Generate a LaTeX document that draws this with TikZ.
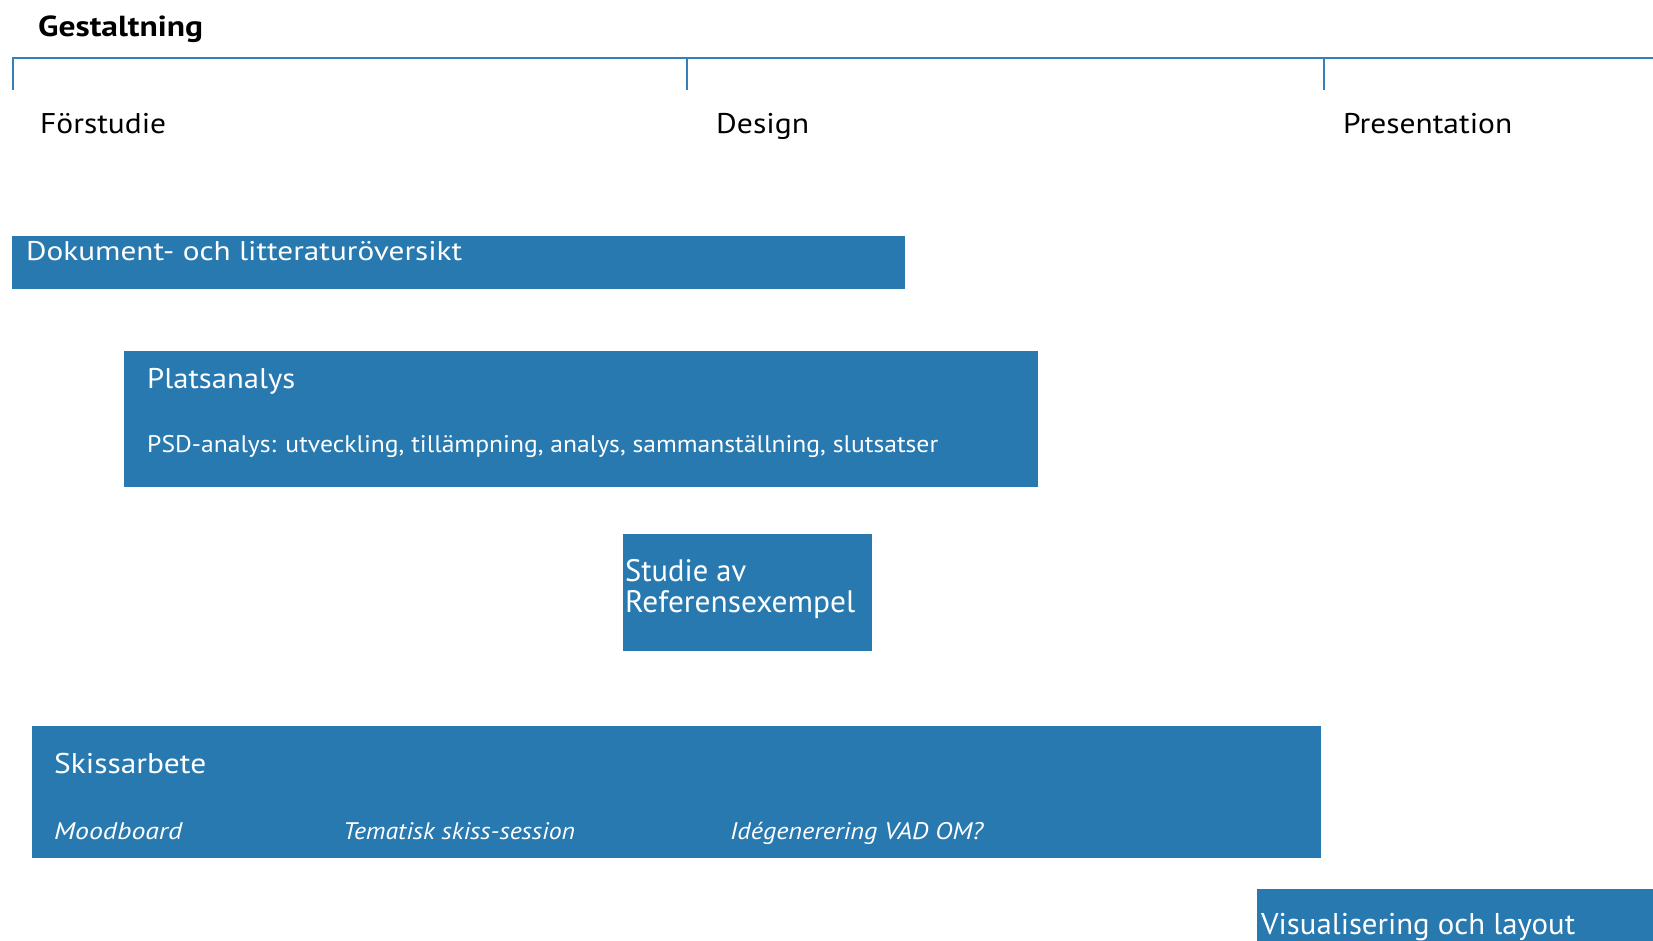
\documentclass[tikz,border=0pt]{standalone}
\usepackage{fontspec}
\setmainfont{PT Sans}
\usepackage{graphicx}
\definecolor{boxblue}{HTML}{2879B0}
\definecolor{lineblue}{HTML}{3580BA}
\newcommand\fitw[2]{\resizebox{#1}{\height}{#2}}
\begin{document}
\begin{tikzpicture}[x=1pt,y=-1pt,
  box/.style={fill=boxblue,draw=none,inner sep=0pt,anchor=north west},
  txt/.style={inner sep=0pt,anchor=base west,text=white},
  head/.style={inner sep=0pt,anchor=base west,text=black},
  axis/.style={draw=lineblue,line width=2.6pt},
  tick/.style={draw=lineblue,line width=2pt}]
\useasboundingbox (0,0) rectangle (1653,940);
% title
\node[head,font=\bfseries\fontsize{29}{32}\selectfont] (title) at (38,36) {\fitw{165pt}{Gestaltning}};
% timeline
\coordinate (l0) at (13,58);
\coordinate (l1) at (1653,58);
\coordinate (t1a) at (13,57); \coordinate (t1b) at (13,90);
\coordinate (t2a) at (687,57); \coordinate (t2b) at (687,90);
\coordinate (t3a) at (1324,57); \coordinate (t3b) at (1324,90);
\draw[axis] (l0) -- (l1);
\draw[tick] (t1a) -- (t1b);
\draw[tick] (t2a) -- (t2b);
\draw[tick] (t3a) -- (t3b);
\node[head,font=\fontsize{28.5}{32}\selectfont] (forstudie) at (40,133) {\fitw{126pt}{Förstudie}};
\node[head,font=\fontsize{28.5}{32}\selectfont] (design) at (716,133) {\fitw{93pt}{Design}};
\node[head,font=\fontsize{28.5}{32}\selectfont] (present) at (1343,133) {\fitw{169pt}{Presentation}};
% boxes
\node[box,minimum width=893pt,minimum height=53pt] (dok) at (12,236) {};
\node[box,minimum width=914pt,minimum height=136pt] (plats) at (124,351) {};
\node[box,minimum width=249pt,minimum height=117pt] (studie) at (623,534) {};
\node[box,minimum width=1289pt,minimum height=132pt] (skiss) at (32,726) {};
\node[box,minimum width=400pt,minimum height=60pt] (vis) at (1257,889) {};
% texts
\node[txt,font=\fontsize{27}{30}\selectfont] (dokt) at (26,260) {\fitw{436pt}{Dokument- och litteraturöversikt}};
\node[txt,font=\fontsize{28.5}{32}\selectfont] (platst) at (147,388) {\fitw{148pt}{Platsanalys}};
\node[txt,font=\fontsize{24}{28}\selectfont] (psd) at (147,452) {\fitw{791pt}{PSD-analys: utveckling, tillämpning, analys, sammanställning, slutsatser}};
\node[txt,font=\fontsize{31}{34}\selectfont] (studie1) at (625,581) {\fitw{121pt}{Studie av}};
\node[txt,font=\fontsize{31}{34}\selectfont] (studie2) at (625,612) {\fitw{230pt}{Referensexempel}};
\node[txt,font=\fontsize{28.5}{32}\selectfont] (skisst) at (54,773) {\fitw{152pt}{Skissarbete}};
\node[txt,font=\itshape\fontsize{24}{28}\selectfont] (mood) at (54,839) {\fitw{128pt}{Moodboard}};
\node[txt,font=\itshape\fontsize{24}{28}\selectfont] (tema) at (343,839) {\fitw{232pt}{Tematisk skiss-session}};
\node[txt,font=\itshape\fontsize{24}{28}\selectfont] (ide) at (730,839) {\fitw{253pt}{Idégenerering VAD OM?}};
\node[txt,font=\fontsize{30}{34}\selectfont] (vist) at (1261,934) {\fitw{314pt}{Visualisering och layout}};
\end{tikzpicture}
\end{document}
